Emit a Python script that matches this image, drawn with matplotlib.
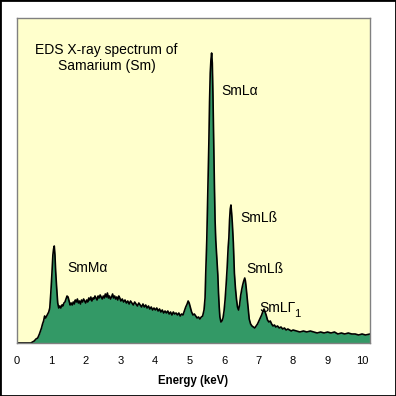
import matplotlib
matplotlib.use('Agg')
from matplotlib import pyplot as plt
from matplotlib.patches import Rectangle

plt.rcParams['font.family'] = ['Liberation Sans', 'DejaVu Sans']

# energy (keV) and counts
energy = [0.00, 0.40, 0.45, 0.50, 0.55, 0.60, 0.65, 0.68, 0.71, 0.74, 0.77, 0.80, 0.83, 0.86, 0.89, 0.92, 0.95, 0.98,
          1.01, 1.04, 1.06, 1.08, 1.10, 1.12, 1.15, 1.18, 1.21, 1.24, 1.27, 1.30, 1.33, 1.36, 1.39, 1.42, 1.45, 1.48,
          1.51, 1.54, 1.57, 1.60, 1.63, 1.66, 1.69, 1.72, 1.75, 1.78, 1.81, 1.84, 1.87, 1.90, 1.93, 1.96, 1.99,
          2.02, 2.05, 2.08, 2.11, 2.14, 2.17, 2.20, 2.23, 2.26, 2.29, 2.32, 2.35, 2.38, 2.41, 2.44, 2.47, 2.50,
          2.53, 2.56, 2.59, 2.62, 2.65, 2.68, 2.71, 2.74, 2.77, 2.80, 2.83, 2.86, 2.89, 2.92, 2.95, 2.98,
          3.01, 3.05, 3.09, 3.13, 3.17, 3.21, 3.25, 3.29, 3.33, 3.37, 3.41, 3.45, 3.49, 3.53, 3.57, 3.61, 3.65,
          3.69, 3.73, 3.77, 3.81, 3.85, 3.89, 3.93, 3.97, 4.01, 4.05, 4.09, 4.13, 4.17, 4.21, 4.25, 4.29, 4.33,
          4.37, 4.41, 4.45, 4.49, 4.53, 4.57, 4.61, 4.65, 4.69, 4.73, 4.77, 4.81, 4.85, 4.89, 4.93, 4.96, 4.99,
          5.02, 5.06, 5.10, 5.14, 5.18, 5.22, 5.26, 5.30, 5.34, 5.38, 5.42, 5.45, 5.47, 5.50, 5.53, 5.56, 5.58,
          5.60, 5.62, 5.64, 5.66, 5.68, 5.70, 5.72, 5.74, 5.76, 5.79, 5.82, 5.84, 5.86, 5.88, 5.91, 5.94, 5.97,
          6.00, 6.03, 6.06, 6.09, 6.12, 6.14, 6.16, 6.18, 6.20, 6.22, 6.24, 6.27, 6.30, 6.33, 6.36, 6.39, 6.42,
          6.45, 6.48, 6.51, 6.54, 6.57, 6.60, 6.62, 6.64, 6.67, 6.70, 6.73, 6.77, 6.81, 6.85, 6.89, 6.93, 6.97,
          7.01, 7.05, 7.09, 7.13, 7.16, 7.19, 7.22, 7.26, 7.30, 7.34, 7.38, 7.42, 7.46, 7.50, 7.55, 7.60, 7.65,
          7.70, 7.75, 7.80, 7.85, 7.90, 7.95, 8.00, 8.10, 8.20, 8.30, 8.40, 8.50, 8.60, 8.70, 8.80, 8.90, 9.00,
          9.10, 9.20, 9.30, 9.40, 9.50, 9.60, 9.70, 9.80, 9.90, 10.00, 10.10, 10.23]
counts = [0, 0, 1, 2, 4, 5, 9, 12, 15, 19, 22, 27, 25, 27, 29, 31, 35, 50,
          68, 88, 94, 97, 88, 72, 55, 40, 35, 37, 35, 38, 37, 40, 41, 44, 47, 46,
          42, 38, 40, 38, 41, 39, 43, 41, 44, 40, 42, 39, 43, 41, 44, 42, 40,
          43, 41, 45, 43, 46, 42, 45, 44, 47, 45, 43, 47, 45, 48, 46, 44, 47,
          45, 49, 46, 50, 45, 47, 44, 46, 49, 45, 47, 44, 46, 43, 47, 45,
          42, 44, 41, 43, 40, 42, 39, 42, 40, 38, 41, 39, 37, 40, 38, 36, 39,
          36, 38, 35, 37, 34, 36, 33, 35, 33, 35, 32, 34, 31, 33, 30, 32, 30,
          32, 29, 31, 28, 31, 29, 30, 28, 30, 27, 29, 28, 32, 36, 39, 42, 40,
          36, 31, 28, 29, 27, 25, 26, 24, 26, 27, 33, 45, 70, 103, 150, 200, 241,
          270, 283, 290, 280, 246, 200, 160, 123, 103, 85, 68, 50, 36, 26, 21, 22, 25,
          32, 43, 58, 75, 96, 105, 123, 134, 138, 130, 120, 100, 70, 55, 44, 36, 33,
          38, 47, 53, 58, 62, 65, 62, 56, 45, 33, 24, 19, 17, 16, 15, 17, 19,
          22, 25, 28, 32, 34, 31, 28, 23, 21, 22, 19, 17, 18, 16, 17, 15, 16,
          14, 15, 13, 14, 13, 12, 13, 12, 11, 12, 11, 12, 11, 10, 11, 10, 11,
          10, 11, 9, 10, 9, 10, 9, 9, 8, 9, 8, 9]

xticks = [0, 1, 2, 3, 4, 5, 6, 7, 8, 9, 10]
title_text = 'EDS X-ray spectrum of\nSamarium (Sm)'
peak_labels = ['SmL\u03b1', 'SmM\u03b1', 'SmL\u00df', 'SmL\u00df', 'SmL\u0393']
label_pos = [(5.92, 252), (1.47, 75), (6.48, 125), (6.65, 74), (7.03, 35)]

fig = plt.figure(figsize=(3.96, 3.96), dpi=100)
ax = fig.add_axes([17/396, 53/396, 353/396, 325/396])
ax.set_facecolor('#ffffcc')

ax.fill_between(energy, counts, 0, color='#339966', lw=0, antialiased=False)
ax.plot(energy, counts, color='black', lw=1.2)

ax.set_xlim(0, 10.23)
ax.set_ylim(0, 325)
ax.set_xticks(xticks)
ax.set_yticks([])
ax.tick_params(axis='x', length=0, pad=9, labelsize=8)
ax.set_xlabel('Energy (keV)', fontsize=8.3, fontweight='bold', labelpad=7)
for s in ax.spines.values():
    s.set_color('#808080')
    s.set_linewidth(1)

ax.text(2.6, 285, title_text, ha='center', va='center', fontsize=10, linespacing=1.25)
for lab, (x, y) in zip(peak_labels, label_pos):
    ax.text(x, y, lab, ha='left', va='center', fontsize=10)
# subscript of the gamma label
ax.text(8.04, 29, '1', ha='left', va='center', fontsize=8)

fig.patches.append(Rectangle((0, 0), 1, 1, transform=fig.transFigure, fill=False,
                             edgecolor='black', lw=2, zorder=10))

fig.savefig('out.png', dpi=100, facecolor='white')
